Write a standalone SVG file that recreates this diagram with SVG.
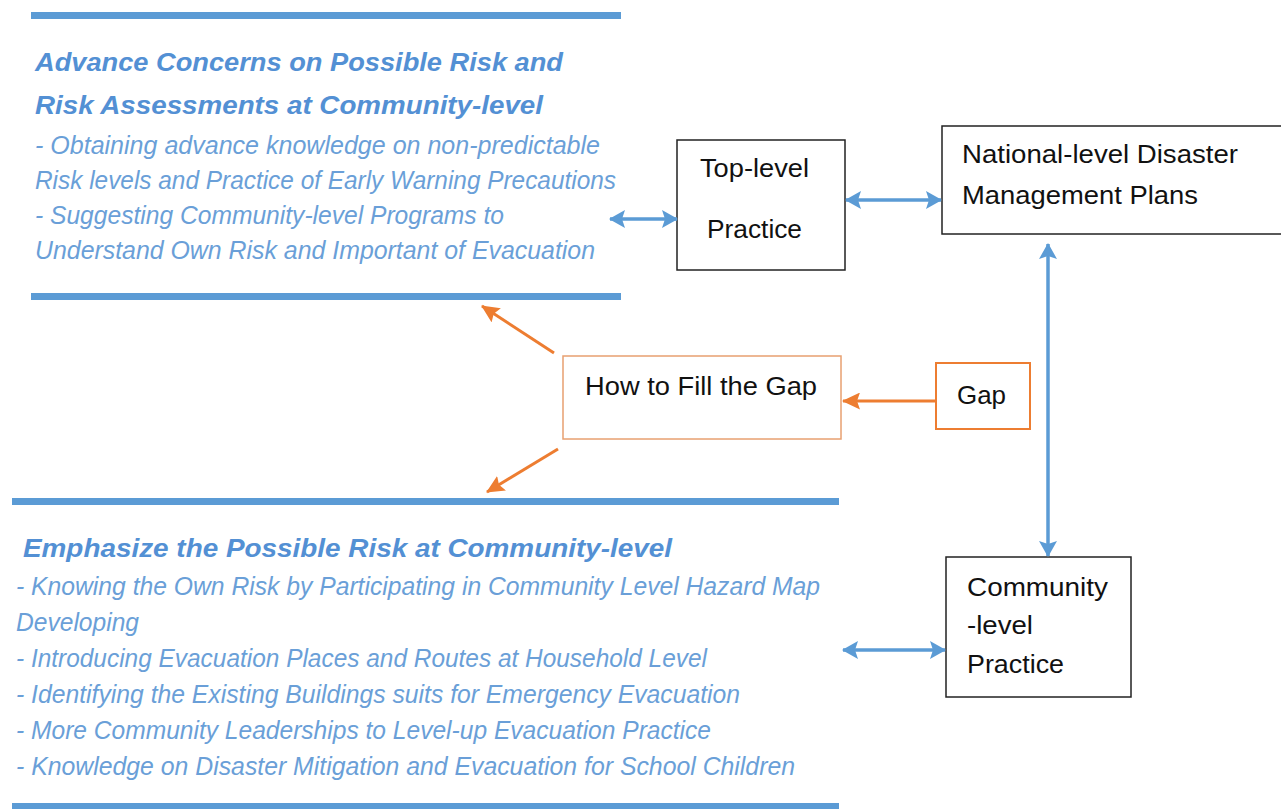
<svg xmlns="http://www.w3.org/2000/svg" width="1281" height="809" viewBox="0 0 1281 809">
  <defs>
    <style>
      .bar { fill: #5b9bd5; }
      .title { font-family: "Liberation Sans", "Open Sans", sans-serif; font-style: italic; font-weight: bold; font-size: 26px; fill: #5390d4; }
      .body { font-family: "Liberation Sans", "Open Sans", sans-serif; font-style: italic; font-size: 25px; fill: #6a9fd8; }
      .box { fill: #ffffff; stroke: #222222; stroke-width: 1.5; }
      .obox { fill: #ffffff; stroke: #e8a070; stroke-width: 1.5; }
      .gbox { fill: #ffffff; stroke: #ed7d31; stroke-width: 2; }
      .label { font-family: "Liberation Sans", "Open Sans", sans-serif; font-size: 25px; fill: #111111; }
      .blink { stroke: #5b9bd5; stroke-width: 3.5; fill: none; }
      .olink { stroke: #ed7d31; stroke-width: 3; fill: none; }
    </style>
    <marker id="bhead" viewBox="0 0 16 18" refX="15" refY="9" markerWidth="16" markerHeight="18" markerUnits="userSpaceOnUse" orient="auto-start-reverse">
      <path d="M0,0 L16,9 L0,18 L3,9 Z" fill="#5b9bd5"/>
    </marker>
    <marker id="ohead" viewBox="0 0 18 17" refX="17" refY="8.5" markerWidth="18" markerHeight="17" markerUnits="userSpaceOnUse" orient="auto">
      <path d="M0,0 L18,8.5 L0,17 L3,8.5 Z" fill="#ed7d31"/>
    </marker>
  </defs>
  <rect width="1281" height="809" fill="#ffffff"/>

  <!-- upper text panel -->
  <g id="advance-concerns">
    <rect class="bar" x="31" y="12" width="590" height="7"/>
    <text class="title" x="35" y="71" textLength="528" lengthAdjust="spacingAndGlyphs">Advance Concerns on Possible Risk and</text>
    <text class="title" x="35" y="114" textLength="508" lengthAdjust="spacingAndGlyphs">Risk Assessments at Community-level</text>
    <text class="body" x="35" y="154" textLength="565" lengthAdjust="spacingAndGlyphs">- Obtaining advance knowledge on non-predictable</text>
    <text class="body" x="35" y="189" textLength="581" lengthAdjust="spacingAndGlyphs">Risk levels and Practice of Early Warning Precautions</text>
    <text class="body" x="35" y="224" textLength="469" lengthAdjust="spacingAndGlyphs">- Suggesting Community-level Programs to</text>
    <text class="body" x="35" y="259" textLength="560" lengthAdjust="spacingAndGlyphs">Understand Own Risk and Important of Evacuation</text>
    <rect class="bar" x="31" y="293" width="590" height="7"/>
  </g>

  <!-- lower text panel -->
  <g id="emphasize-risk">
    <rect class="bar" x="12" y="498" width="827" height="7"/>
    <text class="title" x="23" y="557" textLength="649" lengthAdjust="spacingAndGlyphs">Emphasize the Possible Risk at Community-level</text>
    <text class="body" x="16" y="595" textLength="804" lengthAdjust="spacingAndGlyphs">- Knowing the Own Risk by Participating in Community Level Hazard Map</text>
    <text class="body" x="16" y="631" textLength="123" lengthAdjust="spacingAndGlyphs">Developing</text>
    <text class="body" x="16" y="667" textLength="691" lengthAdjust="spacingAndGlyphs">- Introducing Evacuation Places and Routes at Household Level</text>
    <text class="body" x="16" y="703" textLength="724" lengthAdjust="spacingAndGlyphs">- Identifying the Existing Buildings suits for Emergency Evacuation</text>
    <text class="body" x="16" y="739" textLength="695" lengthAdjust="spacingAndGlyphs">- More Community Leaderships to Level-up Evacuation Practice</text>
    <text class="body" x="16" y="775" textLength="779" lengthAdjust="spacingAndGlyphs">- Knowledge on Disaster Mitigation and Evacuation for School Children</text>
    <rect class="bar" x="12" y="803" width="827" height="7"/>
  </g>

  <g id="top-level-practice">
    <rect class="box" x="677" y="140" width="168" height="130"/>
    <text class="label" x="700" y="177" textLength="109" lengthAdjust="spacingAndGlyphs">Top-level</text>
    <text class="label" x="707" y="238" textLength="95" lengthAdjust="spacingAndGlyphs">Practice</text>
  </g>

  <g id="national-plans">
    <rect class="box" x="942" y="126" width="345" height="108"/>
    <text class="label" x="962" y="163" textLength="276" lengthAdjust="spacingAndGlyphs">National-level Disaster</text>
    <text class="label" x="962" y="204" textLength="236" lengthAdjust="spacingAndGlyphs">Management Plans</text>
  </g>

  <g id="fill-the-gap">
    <rect class="obox" x="563" y="356" width="278" height="83"/>
    <text class="label" x="585" y="395" textLength="232" lengthAdjust="spacingAndGlyphs">How to Fill the Gap</text>
  </g>

  <g id="gap">
    <rect class="gbox" x="936" y="363" width="94" height="66"/>
    <text class="label" x="957" y="404" textLength="49" lengthAdjust="spacingAndGlyphs">Gap</text>
  </g>

  <g id="community-practice">
    <rect class="box" x="946" y="557" width="185" height="140"/>
    <text class="label" x="967" y="596" textLength="141" lengthAdjust="spacingAndGlyphs">Community</text>
    <text class="label" x="967" y="634" textLength="66" lengthAdjust="spacingAndGlyphs">-level</text>
    <text class="label" x="967" y="673" textLength="97" lengthAdjust="spacingAndGlyphs">Practice</text>
  </g>

  <g id="connectors">
    <line class="blink" x1="610" y1="219" x2="677" y2="219" marker-start="url(#bhead)" marker-end="url(#bhead)"/>
    <line class="blink" x1="846" y1="200" x2="941" y2="200" marker-start="url(#bhead)" marker-end="url(#bhead)"/>
    <line class="blink" x1="1048" y1="244" x2="1048" y2="556" marker-start="url(#bhead)" marker-end="url(#bhead)"/>
    <line class="blink" x1="843" y1="650" x2="945" y2="650" marker-start="url(#bhead)" marker-end="url(#bhead)"/>
    <line class="olink" x1="935" y1="401" x2="843" y2="401" marker-end="url(#ohead)"/>
    <line class="olink" x1="554" y1="353" x2="482" y2="306" marker-end="url(#ohead)"/>
    <line class="olink" x1="558" y1="449" x2="487" y2="492" marker-end="url(#ohead)"/>
  </g>
</svg>
